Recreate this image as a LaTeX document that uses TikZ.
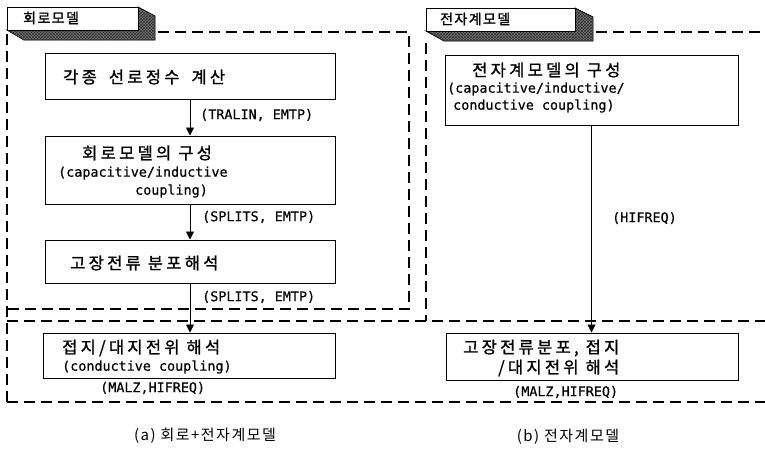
\documentclass[tikz,border=0pt]{standalone}
\usepackage{fontspec}
\newfontfamily\kr[LetterSpace=20,FakeBold=1.2]{Noto Sans CJK KR}
\newfontfamily\krtab[LetterSpace=10,FakeBold=1.2]{Noto Sans CJK KR}
\newfontfamily\krcap[LetterSpace=10]{Noto Sans CJK KR}
\newfontfamily\lt[FakeBold=0.5]{DejaVu Sans Mono}
\usetikzlibrary{arrows.meta,patterns}
\begin{document}
\begin{tikzpicture}[x=1pt,y=-1pt,
  box/.style={draw,line width=1pt,inner sep=0pt},
  kt/.style={inner sep=0pt,anchor=west,font=\kr\fontsize{16.5}{19}\selectfont},
  tabtext/.style={inner sep=0pt,anchor=west,font=\krtab\fontsize{14}{16}\selectfont},
  lt/.style={inner sep=0pt,anchor=west,font=\lt\fontsize{13.4}{16}\selectfont},
  captext/.style={inner sep=0pt,font=\krcap\fontsize{15}{17}\selectfont},
  frame/.style={line width=2.2pt,dash pattern=on 11pt off 6pt},
  flow/.style={line width=0.9pt,-{Triangle[length=8pt,width=8pt]}},
  shade/.style={draw,line width=0.8pt,fill=black!55,postaction={pattern=crosshatch,pattern color=black!80}},
  tabface/.style={draw,line width=1pt,fill=white}]
\useasboundingbox (0,0) rectangle (765,448);

% ---- tabs ----
\path[shade] (138,7) -- (155,16) -- (155,40) -- (24,40) -- (7,30) -- (138,30) -- cycle;
\path[tabface] (7,7) rectangle (138,30);
\node[tabtext] (tabL) at (23,18) {회로모델};
\path[shade] (575,8) -- (593,17) -- (593,41) -- (444,41) -- (426,31) -- (575,31) -- cycle;
\path[tabface] (426,8) rectangle (575,31);
\node[tabtext] (tabR) at (440,19) {전자계모델};

% ---- dashed frames ----
\coordinate (fL1) at (7,34);
\coordinate (fL2) at (7,402);
\coordinate (fA1) at (158,32);
\coordinate (fA2) at (409,32);
\coordinate (fA3) at (409,309);
\coordinate (fA4) at (7,309);
\coordinate (fB1) at (7,321);
\coordinate (fB2) at (765,321);
\coordinate (fB3) at (765,402);
\coordinate (fR1) at (596,32);
\coordinate (fR2) at (765,32);
\coordinate (fR3) at (426,43);
\coordinate (fR4) at (426,321);
\draw[frame] (fL1) -- (fL2);
\draw[frame] (fA1) -- (fA2) -- (fA3) -- (fA4);
\draw[frame] (fB1) -- (fB2);
\draw[frame] (fL2) -- (fB3);
\draw[frame] (fR1) -- (fR2);
\draw[frame] (fR3) -- (fR4);

% ---- left column ----
\node[box,minimum width=290pt,minimum height=46pt] (b1) at (190,76) {};
\node[kt] (t1) at (63,77) {각종\hspace{12pt}선로정수\hspace{12pt}계산};

\node[box,minimum width=290pt,minimum height=68pt] (b2) at (190,170) {};
\node[kt] (t2a) at (82,153) {회로모델의 구성};
\node[lt] (t2b) at (58,173) {(capacitive/inductive};
\node[lt] (t2c) at (135,191) {coupling)};

\node[box,minimum width=290pt,minimum height=43pt] (b3) at (190,261.5) {};
\node[kt] (t3) at (70,263) {고장전류 분포해석};

\node[box,minimum width=292pt,minimum height=45pt] (b4) at (189,355.5) {};
\node[kt] (t4a) at (62,348) {접지/대지전위 해석};
\node[lt] (t4b) at (62,367) {(conductive coupling)};
\node[lt] (l4) at (100,388) {(MALZ,HIFREQ)};

\draw[flow] (b1.south) -- (b2.north);
\node[lt] (l1) at (200,115) {(TRALIN, EMTP)};
\draw[flow] (b2.south) -- (b3.north);
\node[lt] (l2) at (202,217) {(SPLITS, EMTP)};
\draw[flow] (b3.south) -- (b3.south |- b4.north);
\node[lt] (l3) at (202,297) {(SPLITS, EMTP)};

% ---- right column ----
\node[box,minimum width=293pt,minimum height=70pt] (b5) at (591.5,90) {};
\node[kt] (t5a) at (472,70) {전자계모델의 구성};
\node[lt] (t5b) at (447,89) {(capacitive/inductive/};
\node[lt] (t5c) at (453,106) {conductive coupling)};

\node[box,minimum width=292pt,minimum height=47pt] (b6) at (592,356.5) {};
\node[kt] (t6a) at (463,348) {고장전류분포, 접지};
\node[kt] (t6b) at (498,368) {/대지전위 해석};
\node[lt] (l6) at (513,392) {(MALZ,HIFREQ)};

\draw[flow] (b5.south) -- (b5.south |- b6.north);
\node[lt] (l5) at (612,218) {(HIFREQ)};

% ---- captions ----
\node[captext] (capA) at (205,436) {(a) 회로+전자계모델};
\node[captext] (capB) at (568,437) {(b) 전자계모델};
\end{tikzpicture}
\end{document}
